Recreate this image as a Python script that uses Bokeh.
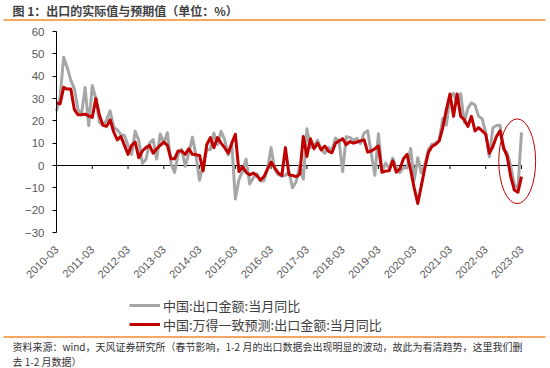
import math
from bokeh.plotting import figure
from bokeh.models import (FixedTicker, Legend, LegendItem, Label, BoxAnnotation, Range1d)
from bokeh.embed import file_html
from bokeh.resources import INLINE

# ---------------- data ----------------
years = list(range(2010, 2024))
tick_labels = [f"{y}-03" for y in years]

# 中国:出口金额:当月同比 (Mar-Dec each year, Jan-Feb removed)
actual = [
    24.3, 30.5, 48.5, 43.9, 38.1, 34.4, 25.1, 22.9, 34.9, 17.9,   # 2010
    35.8, 29.9, 19.4, 17.9, 20.4, 24.5, 17.1, 15.9, 13.8, 13.4,   # 2011
    8.9, 4.9, 15.3, 11.3, 1.0, 2.7, 9.9, 11.6, 2.9, 14.1,         # 2012
    10.0, 14.7, 1.0, -3.1, 5.1, 7.2, -0.3, 5.6, 12.7, 4.3,        # 2013
    -6.6, 0.9, 7.0, 7.2, 14.5, 9.4, 15.3, 11.6, 4.7, 9.7,         # 2014
    -15.0, -6.4, -2.5, 2.8, -8.3, -5.5, -3.7, -6.9, -6.8, -1.4,   # 2015
    8.0, -1.8, -4.1, -4.8, -4.4, -2.8, -10.0, -7.3, 0.1, -6.1,    # 2016
    16.4, 8.0, 8.7, 11.3, 7.2, 5.5, 8.1, 6.9, 12.3, 10.9,         # 2017
    -2.7, 12.9, 12.6, 11.3, 12.2, 9.8, 14.5, 15.6, 5.4, -4.4,     # 2018
    14.2, -2.7, 1.1, -1.3, 3.3, -1.0, -3.2, -0.9, -1.1, 7.6,      # 2019
    -6.6, 3.5, -3.3, 0.5, 7.2, 9.5, 9.9, 11.4, 21.1, 18.1,        # 2020
    30.6, 32.3, 27.9, 32.2, 19.3, 25.6, 28.1, 27.1, 22.0, 20.9,   # 2021
    14.7, 3.9, 16.9, 17.9, 18.0, 7.1, 5.7, -0.3, -8.7, -9.9,      # 2022
    14.8,                                                          # 2023-03
]

# 中国:万得一致预测:出口金额:当月同比
forecast = [
    28.0, 27.6, 35.0, 34.2, 34.2, 25.0, 22.7, 22.7, 23.0, 22.2,   # 2010
    21.5, 30.0, 22.5, 18.0, 17.5, 20.5, 15.0, 11.5, 13.0, 9.0,    # 2011
    5.0, 9.0, 10.5, 3.5, 6.5, 8.0, 9.0, 5.5, 7.5, 9.0,            # 2012
    10.5, 9.0, 3.0, 3.0, 6.5, 6.5, 5.0, 7.5, 5.0, 4.8,            # 2013
    4.5, -2.4, 9.3, 12.5, 8.0, 12.5, 10.0, 8.0, 5.5, 10.0,        # 2014
    14.0, -2.7, -0.5, -3.0, -4.2, -3.4, -4.5, -6.5, -5.0, -1.5,   # 2015
    1.5, -1.0, -3.4, -4.5, 8.0, -4.2, -4.5, -5.0, -3.9, 13.0,     # 2016
    4.0, 12.0, 7.5, 10.0, 7.0, 8.7, 6.4, 5.7, 10.0, 11.0,         # 2017
    12.0, 9.3, 10.7, 10.0, 10.5, 11.0, 11.5, 6.0, 6.5, 7.5,       # 2018
    8.7, -3.0, -2.5, -2.4, 2.1, -3.0, -1.5, 3.0, 5.0, -2.0,       # 2019
    -10.0, -17.0, -9.0, -1.0, 6.0, 8.5, 9.5, 11.0, 17.0, 25.0,    # 2020
    32.0, 22.0, 32.0, 22.0, 20.5, 17.5, 22.0, 15.5, 17.0, 15.5,   # 2021
    14.0, 5.5, 8.5, 13.0, 15.5, 8.0, 4.0, -5.0, -11.0, -12.0,     # 2022
    -5.0,                                                          # 2023-03
]

x = list(range(len(actual)))
tick_idx = [10 * i for i in range(len(years))]
y_ticks = list(range(-30, 61, 10))

title_text = "图 1：出口的实际值与预期值（单位：%）"
footer1 = "资料来源：wind，天风证券研究所（春节影响，1-2 月的出口数据会出现明显的波动，故此为看清趋势，这里我们删"
footer2 = "去 1-2 月数据）"

# ---------------- layout (pixels) ----------------
W, H = 550, 368
AX_LEFT, AX_RIGHT = 56, 521          # pixel x of first / last point
AX_TOP, AX_BOTTOM = 31, 232          # pixel y of 60 / -30
ppx = (AX_RIGHT - AX_LEFT) / (len(x) - 1)
ppy = (AX_BOTTOM - AX_TOP) / (y_ticks[-1] - y_ticks[0])

def dx(px):
    return (px - AX_LEFT) / ppx

def dy(py):
    return y_ticks[-1] - (py - AX_TOP) / ppy

p = figure(width=W, height=H, output_backend="svg", toolbar_location=None,
           x_range=Range1d(dx(0), dx(W)), y_range=Range1d(dy(H), dy(0)),
           min_border=0, background_fill_color="white", border_fill_color="white")
p.title.visible = False
p.outline_line_color = None
p.xgrid.visible = False
p.ygrid.visible = False

# zero line with year ticks
p.segment(x0=[x[0]], y0=[0], x1=[x[-1]], y1=[0], line_color="black", line_width=1)
p.segment(x0=tick_idx, y0=[0] * len(tick_idx), x1=tick_idx,
          y1=[-3.5 / ppy] * len(tick_idx), line_color="black", line_width=1)

r1 = p.line(x, actual, line_color="#A6A6A6", line_width=3, line_join="round")
r2 = p.line(x, forecast, line_color="#C00000", line_width=3, line_join="round")

# highlight ellipse around the latest points
p.ellipse(x=[x[-1] - 1.2], y=[1.9], width=[10.3], height=[38],
          fill_color=None, line_color="#C00000", line_width=1)

# axes (drawn at fixed data locations)
xa = p.xaxis[0]
xa.fixed_location = y_ticks[0]
xa.ticker = FixedTicker(ticks=tick_idx)
xa.major_label_overrides = {t: lab for t, lab in zip(tick_idx, tick_labels)}
xa.axis_line_color = None
xa.major_tick_line_color = None
xa.minor_tick_line_color = None
xa.major_label_orientation = math.pi / 4
xa.major_label_standoff = 9
xa.major_label_text_font = "Liberation Sans"
xa.major_label_text_font_size = "11px"
xa.major_label_text_color = "#595959"

ya = p.yaxis[0]
ya.fixed_location = 0
ya.bounds = (y_ticks[0], y_ticks[-1])
ya.ticker = FixedTicker(ticks=y_ticks)
ya.axis_line_color = "black"
ya.major_tick_line_color = "black"
ya.major_tick_in = 0
ya.major_tick_out = 4
ya.minor_tick_line_color = None
ya.major_label_standoff = 8
ya.major_label_text_font = "Liberation Sans"
ya.major_label_text_font_size = "11.5px"
ya.major_label_text_color = "#595959"

legend = Legend(items=[LegendItem(label="中国:出口金额:当月同比", renderers=[r1]),
                       LegendItem(label="中国:万得一致预测:出口金额:当月同比", renderers=[r2])],
                location=(129, H - 333.5), orientation="vertical",
                border_line_color=None, background_fill_alpha=0,
                padding=0, margin=0, spacing=0, label_height=16, glyph_height=16,
                glyph_width=31, label_standoff=3,
                label_text_font="Noto Sans CJK SC", label_text_font_size="13px",
                label_text_color="#404040")
p.add_layout(legend)

ORANGE = "#EE8B2E"
p.add_layout(Label(x=12, y=H - 9.5, x_units="screen", y_units="screen",
                   text=title_text, text_font="Noto Sans CJK SC", text_font_style="bold",
                   text_font_size="12px", text_color="#3F3F3F", text_baseline="middle"))
for rule_y in (19.5, 336.5):
    p.add_layout(BoxAnnotation(left=dx(3), right=dx(545), top=dy(rule_y - 0.8), bottom=dy(rule_y + 0.8),
                               fill_color=ORANGE, fill_alpha=1, line_color=None))
p.add_layout(Label(x=12, y=H - 345.5, x_units="screen", y_units="screen", text=footer1,
                   text_font="Noto Sans CJK SC", text_font_size="10px", text_color="#333333",
                   text_baseline="middle"))
p.add_layout(Label(x=12, y=H - 361, x_units="screen", y_units="screen", text=footer2,
                   text_font="Noto Sans CJK SC", text_font_size="10px", text_color="#333333",
                   text_baseline="middle"))

open("out.html", "w").write(file_html(p, INLINE))
